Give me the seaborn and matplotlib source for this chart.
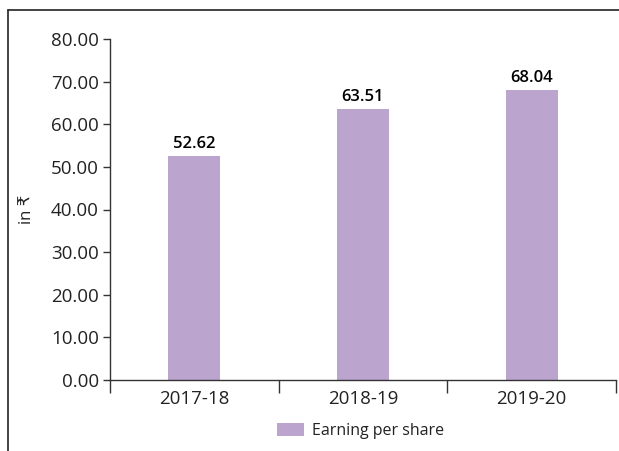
import matplotlib
matplotlib.use("Agg")
import matplotlib.pyplot as plt
import matplotlib.ticker as mticker
from matplotlib.patches import Patch
from matplotlib.lines import Line2D
import seaborn as sns
import pandas as pd

# --- datos ---
years = ["2017-18", "2018-19", "2019-20"]
eps = [52.62, 63.51, 68.04]
y_ticks = [0, 10, 20, 30, 40, 50, 60, 70, 80]

BAR_COLOR = "#BBA5CF"
INK = "#222222"

sns.set_theme(style="white")
plt.rcParams["font.family"] = ["Open Sans", "DejaVu Sans"]

df = pd.DataFrame({"year": years, "eps": eps})

fig = plt.figure(figsize=(6.19, 4.51), dpi=100)
ax = fig.add_axes([110 / 619, 1 - 380 / 451, (616 - 110) / 619, (380 - 39) / 451])

sns.barplot(data=df, x="year", y="eps", color=BAR_COLOR, width=0.31,
            saturation=1, linewidth=0, ax=ax)

ax.bar_label(ax.containers[0], fmt="%.2f", padding=3, fontsize=12,
             fontweight="semibold", color="black")

ax.set_xlim(-0.5, 2.5)
ax.set_ylim(0, 80)
ax.set_yticks(y_ticks)
ax.yaxis.set_major_formatter(mticker.FormatStrFormatter("%.2f"))

# ticks del eje x en los limites de cada categoria
ax.set_xticks([-0.5, 0.5, 1.5, 2.5])
ax.set_xticklabels([])
ax.set_xticks(range(len(years)), minor=True)
ax.set_xticklabels(years, minor=True)
ax.tick_params(axis="x", which="major", length=9, width=1, color="#333333",
               direction="out", bottom=True)
ax.tick_params(axis="x", which="minor", length=0, labelsize=13.5,
               labelcolor=INK, pad=7)
ax.tick_params(axis="y", length=5, width=1, color="#333333", direction="out",
               left=True, labelsize=13.5, labelcolor=INK, pad=3)

ax.set_xlabel("")
ax.set_ylabel("in ₹", fontsize=12, color=INK)
ax.yaxis.set_label_coords(-0.148, 0.5)

for side in ["top", "right"]:
    ax.spines[side].set_visible(False)
for side in ["left", "bottom"]:
    ax.spines[side].set_color("#333333")
    ax.spines[side].set_linewidth(1)

# leyenda
handle = Patch(facecolor=BAR_COLOR, edgecolor="none", label="Earning per share")
fig.legend(handles=[handle], loc="center", bbox_to_anchor=(0.582, 1 - 431 / 451),
           frameon=False, fontsize=11.5, handlelength=1.7, handleheight=0.9,
           handletextpad=0.5, labelcolor=INK)

# marco exterior (solo arriba e izquierda)
x0 = 8 / 619
y0 = 1 - 10 / 451
fig.add_artist(Line2D([x0, x0], [0, y0], color=INK, lw=1.2))
fig.add_artist(Line2D([x0, 1], [y0, y0], color=INK, lw=1.2))

fig.savefig("out.png", dpi=100)
